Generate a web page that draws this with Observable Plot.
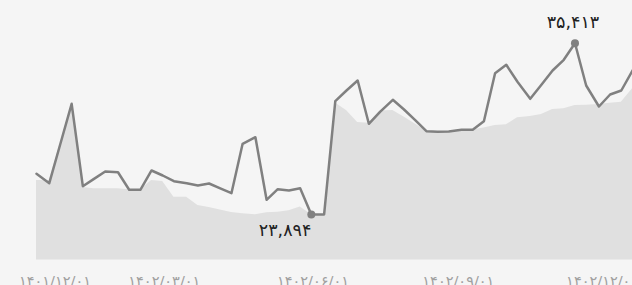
<!DOCTYPE html>
<html><head><meta charset="utf-8">
<script src="https://cdn.jsdelivr.net/npm/d3@7"></script>
<script src="https://cdn.jsdelivr.net/npm/@observablehq/plot@0.6"></script>
<style>html,body{margin:0;padding:0;background:#f5f5f5;overflow:hidden}</style>
</head><body><div id="chart"></div>
<script>
const dates = ["2023-03-03","2023-03-11","2023-03-18","2023-03-25","2023-04-01","2023-04-08","2023-04-15","2023-04-23","2023-04-30","2023-05-07","2023-05-14","2023-05-21","2023-05-28","2023-06-05","2023-06-12","2023-06-19","2023-06-26","2023-07-03","2023-07-10","2023-07-18","2023-07-25","2023-08-01","2023-08-08","2023-08-15","2023-08-22","2023-08-30","2023-09-06","2023-09-13","2023-09-20","2023-09-27","2023-10-04","2023-10-12","2023-10-19","2023-10-26","2023-11-02","2023-11-09","2023-11-16","2023-11-24","2023-12-01","2023-12-08","2023-12-15","2023-12-22","2023-12-29","2024-01-06","2024-01-13","2024-01-20","2024-01-27","2024-02-03","2024-02-10","2024-02-18","2024-02-25","2024-03-03","2024-03-10"];
const price = [26631,25999,28668,31338,25797,26288,26786,26738,25560,25550,26853,26517,26133,25999,25844,25979,25649,25326,28648,29092,24882,25595,25508,25663,23894,23900,31513,32232,32905,29993,30800,31607,30955,30242,29495,29455,29475,29590,29600,30168,33396,33961,32817,31674,32622,33577,34297,35413,32569,31156,31963,32232,33577];
const base = [26180,26180,28700,31338,25710,25622,25622,25622,25555,25550,26180,26113,25057,25057,24499,24365,24197,24028,23940,23874,24008,24049,24143,24398,23894,23900,31400,30887,30081,30030,30850,30887,30450,29980,29495,29455,29475,29590,29600,29718,29879,29926,30397,30484,30619,30955,31002,31224,31244,31291,31378,31446,32347];
const tickDates = ["2023-02-20","2023-05-22","2023-08-23","2023-11-22","2024-02-20"];
const tickLabels = ["۱۴۰۱/۱۲/۰۱","۱۴۰۲/۰۳/۰۱","۱۴۰۲/۰۶/۰۱","۱۴۰۲/۰۹/۰۱","۱۴۰۲/۱۲/۰۱"];

const data = dates.map((d, i) => ({date: new Date(d), price: price[i], base: base[i]}));
const ticks = tickDates.map(d => new Date(d));
const labelOf = new Map(ticks.map((d, i) => [+d, tickLabels[i]]));
const fa = s => s.replace(/\d/g, c => "۰۱۲۳۴۵۶۷۸۹"[+c]);
const fmt = v => fa(d3.format(",")(v));
const minPt = d3.least(data, d => d.price);
const maxPt = d3.greatest(data, d => d.price);
const yDomain = [20834, 36940];

const axisOpts = {tickSize: 0, tickPadding: 16, fontSize: 14.5, fill: "#a0a0a0", tickFormat: d => labelOf.get(+d)};

const chart = Plot.plot({
  width: 632, height: 285,
  marginLeft: 36, marginRight: 0, marginTop: 20, marginBottom: 25.5,
  style: {background: "#f5f5f5", fontFamily: "DejaVu Sans, sans-serif", overflow: "visible"},
  x: {type: "utc", domain: [data[0].date, data[data.length - 1].date], axis: null},
  y: {domain: yDomain, axis: null},
  marks: [
    Plot.areaY(data, {x: "date", y1: yDomain[0], y2: "base", fill: "#e0e0e0"}),
    Plot.lineY(data, {x: "date", y: "price", stroke: "#808080", strokeWidth: 2.5}),
    Plot.dot([minPt, maxPt], {x: "date", y: "price", r: 4, fill: "#808080"}),
    Plot.text([maxPt], {x: "date", y: "price", text: d => fmt(d.price), dy: -21, dx: -2, fontSize: 17.5, fill: "#222"}),
    Plot.text([minPt], {x: "date", y: "price", text: d => fmt(d.price), dy: 16, textAnchor: "end", fontSize: 17.5, fill: "#222"}),
    Plot.axisX(ticks.slice(0, 1), {...axisOpts, textAnchor: "start"}),
    Plot.axisX(ticks.slice(1), {...axisOpts})
  ]
});
document.getElementById("chart").append(chart);
</script>
</body></html>
